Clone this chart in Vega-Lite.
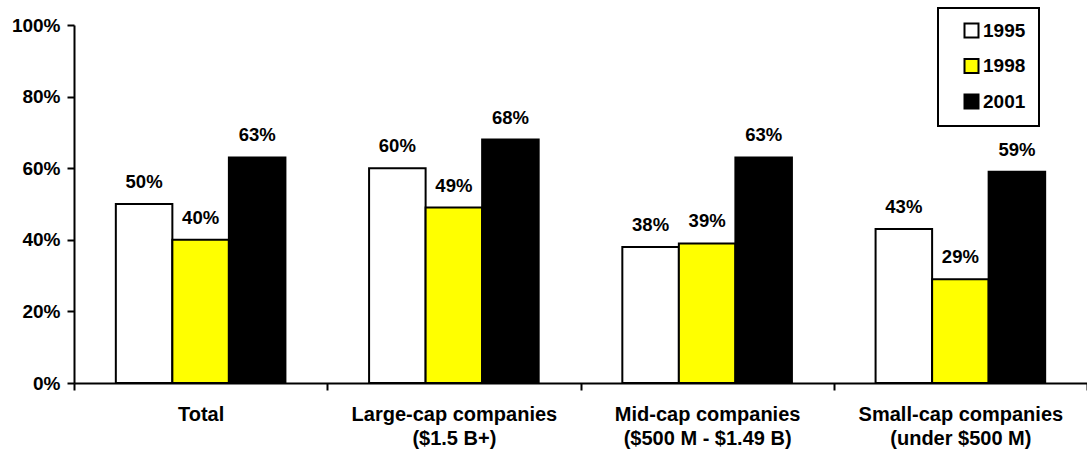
{
  "$schema": "https://vega.github.io/schema/vega-lite/v6.json",
  "autosize": {"type": "none"},
  "padding": {"left": 74, "top": 25, "right": 0, "bottom": 72},
  "width": 1013,
  "height": 358,
  "data": {
    "values": [
      {"group": "Total", "year": "1995", "value": 0.50},
      {"group": "Total", "year": "1998", "value": 0.40},
      {"group": "Total", "year": "2001", "value": 0.63},
      {"group": "Large-cap companies|($1.5 B+)", "year": "1995", "value": 0.60},
      {"group": "Large-cap companies|($1.5 B+)", "year": "1998", "value": 0.49},
      {"group": "Large-cap companies|($1.5 B+)", "year": "2001", "value": 0.68},
      {"group": "Mid-cap companies|($500 M - $1.49 B)", "year": "1995", "value": 0.38},
      {"group": "Mid-cap companies|($500 M - $1.49 B)", "year": "1998", "value": 0.39},
      {"group": "Mid-cap companies|($500 M - $1.49 B)", "year": "2001", "value": 0.63},
      {"group": "Small-cap companies|(under $500 M)", "year": "1995", "value": 0.43},
      {"group": "Small-cap companies|(under $500 M)", "year": "1998", "value": 0.29},
      {"group": "Small-cap companies|(under $500 M)", "year": "2001", "value": 0.59}
    ]
  },
  "encoding": {
    "x": {
      "field": "group", "type": "nominal", "sort": null,
      "scale": {"paddingInner": 0, "paddingOuter": 0},
      "axis": {
        "title": null, "labelAngle": 0, "tickBand": "extent",
        "labelExpr": "split(datum.label, '|')", "labelLimit": 0,
        "labelFontSize": 20, "labelFontWeight": "bold", "labelColor": "black",
        "labelLineHeight": 24, "labelPadding": 14,
        "domainColor": "black", "domainWidth": 2,
        "tickColor": "black", "tickWidth": 2, "tickSize": 7
      }
    },
    "xOffset": {"field": "year", "type": "nominal", "scale": {"paddingInner": 0, "paddingOuter": 0.74}},
    "y": {
      "field": "value", "type": "quantitative",
      "scale": {"domain": [0, 1]},
      "axis": {
        "title": null, "format": ".0%", "values": [0, 0.2, 0.4, 0.6, 0.8, 1],
        "grid": false, "labelFontSize": 19, "labelFontWeight": "bold", "labelColor": "black",
        "labelPadding": 7,
        "domainColor": "black", "domainWidth": 2,
        "tickColor": "black", "tickWidth": 2, "tickSize": 7
      }
    }
  },
  "layer": [
    {
      "mark": {"type": "bar", "stroke": "black", "strokeWidth": 2},
      "encoding": {
        "fill": {
          "field": "year", "type": "nominal",
          "scale": {"domain": ["1995", "1998", "2001"], "range": ["#ffffff", "#ffff00", "#000000"]},
          "legend": {
            "title": null,
            "orient": "none", "legendX": 864, "legendY": -17,
            "symbolType": "square", "symbolSize": 196,
            "symbolStrokeColor": "black", "symbolStrokeWidth": 2,
            "symbolOffset": 11, "labelOffset": 2,
            "labelExpr": "datum.label + '\u00a0\u00a0'",
            "labelFontSize": 19, "labelFontWeight": "bold", "labelColor": "black",
            "rowPadding": 12.5, "padding": 13,
            "strokeColor": "black", "fillColor": "white",
            "encode": {"legend": {"update": {"strokeWidth": {"value": 2}}}}
          }
        }
      }
    },
    {
      "mark": {"type": "text", "fontSize": 18.5, "fontWeight": "bold", "color": "black", "baseline": "alphabetic", "dy": -16},
      "encoding": {
        "text": {"field": "value", "type": "quantitative", "format": ".0%"}
      }
    }
  ],
  "config": {
    "font": "Liberation Sans",
    "view": {"stroke": null}
  }
}
